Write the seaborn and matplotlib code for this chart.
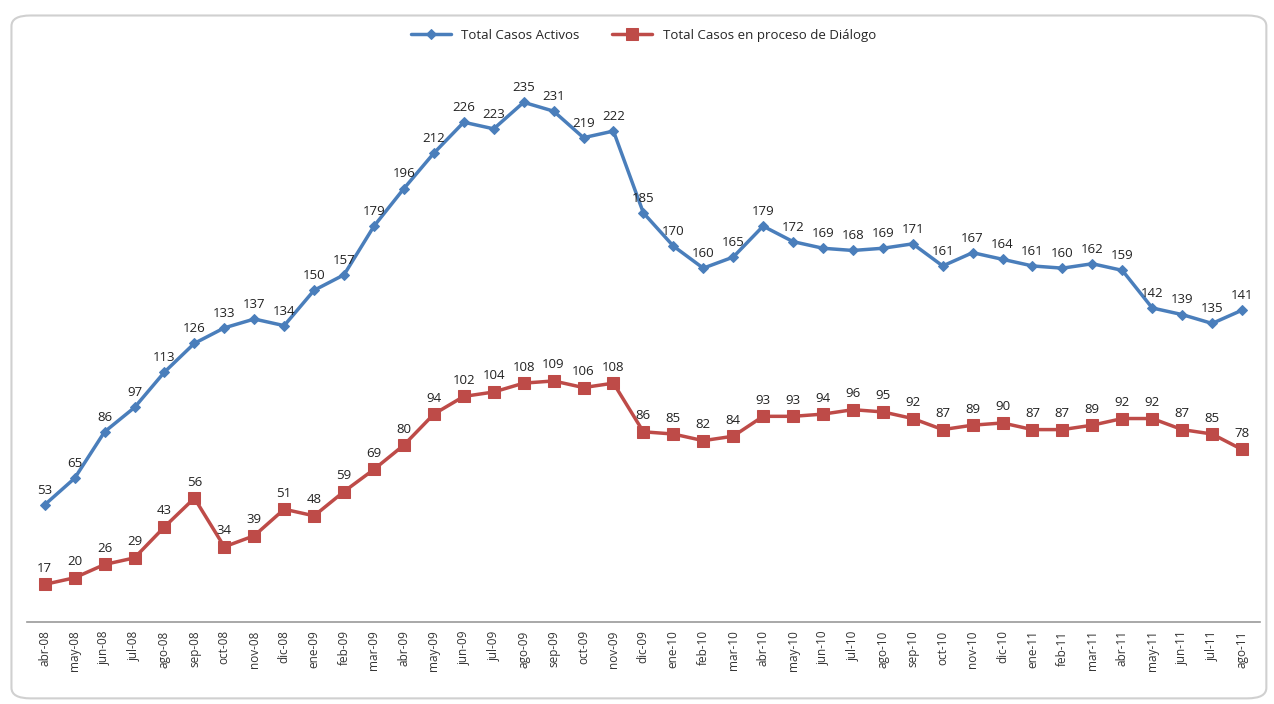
import pandas as pd
import matplotlib.pyplot as plt
import seaborn as sns
from matplotlib.patches import FancyBboxPatch

# month labels
meses = ["abr-08", "may-08", "jun-08", "jul-08", "ago-08", "sep-08", "oct-08", "nov-08", "dic-08",
         "ene-09", "feb-09", "mar-09", "abr-09", "may-09", "jun-09", "jul-09", "ago-09", "sep-09",
         "oct-09", "nov-09", "dic-09", "ene-10", "feb-10", "mar-10", "abr-10", "may-10", "jun-10",
         "jul-10", "ago-10", "sep-10", "oct-10", "nov-10", "dic-10", "ene-11", "feb-11", "mar-11",
         "abr-11", "may-11", "jun-11", "jul-11", "ago-11"]

activos = [53, 65, 86, 97, 113, 126, 133, 137, 134, 150, 157, 179, 196, 212, 226, 223, 235, 231,
           219, 222, 185, 170, 160, 165, 179, 172, 169, 168, 169, 171, 161, 167, 164, 161, 160,
           162, 159, 142, 139, 135, 141]

dialogo = [17, 20, 26, 29, 43, 56, 34, 39, 51, 48, 59, 69, 80, 94, 102, 104, 108, 109, 106, 108,
           86, 85, 82, 84, 93, 93, 94, 96, 95, 92, 87, 89, 90, 87, 87, 89, 92, 92, 87, 85, 78]

df = pd.DataFrame({"pos": range(len(meses)), "mes": meses,
                   "Total Casos Activos": activos,
                   "Total Casos en proceso de Diálogo": dialogo})

sns.set_style("white")
plt.rcParams["font.family"] = ["Open Sans", "DejaVu Sans"]

fig = plt.figure(figsize=(12.74, 7.04), dpi=100)
# rounded frame around the chart (drawn behind the axes)
frame = FancyBboxPatch((0.009, 0.008), 0.985, 0.97, boxstyle="round,pad=0,rounding_size=0.015",
                       transform=fig.transFigure, facecolor="white", edgecolor="#d0d0d0",
                       linewidth=1.5, zorder=-5)
fig.patches.append(frame)
ax = fig.add_axes([0.021, 0.1165, 0.968, 0.801])
ax.set_facecolor("none")
ax.set_zorder(2)

blue = "#4a7ebb"
red = "#be4b48"
sns.lineplot(data=df, x="pos", y="Total Casos Activos", ax=ax, color=blue, linewidth=2.5,
             marker="D", markersize=5, markeredgecolor=blue, label="Total Casos Activos")
sns.lineplot(data=df, x="pos", y="Total Casos en proceso de Diálogo", ax=ax, color=red, linewidth=2.5,
             marker="s", markersize=8, markeredgecolor=red, label="Total Casos en proceso de Diálogo")

for i, v in enumerate(activos):
    ax.annotate(str(v), (i, v), textcoords="offset points", xytext=(0, 8), ha="center",
                fontsize=9.5, color="#222222")
for i, v in enumerate(dialogo):
    ax.annotate(str(v), (i, v), textcoords="offset points", xytext=(0, 9), ha="center",
                fontsize=9.5, color="#222222")

ax.set_xlim(-0.6, len(meses) - 0.4)
ax.set_ylim(0, 255)
ax.set_xticks(range(len(meses)))
ax.set_xticklabels(meses, rotation=90, fontsize=8.5, color="#333333")
ax.set_yticks([])
ax.set_xlabel("")
ax.set_ylabel("")
for s in ["top", "right", "left"]:
    ax.spines[s].set_visible(False)
ax.spines["bottom"].set_color("#999999")
ax.spines["bottom"].set_linewidth(1.2)
ax.tick_params(axis="x", length=0, pad=6)

leg = ax.legend(loc="center", bbox_to_anchor=(0.5, 1.04), ncol=2, frameon=False,
                fontsize=9.5, handlelength=3, columnspacing=2.5)

fig.savefig("out.png", dpi=100)
